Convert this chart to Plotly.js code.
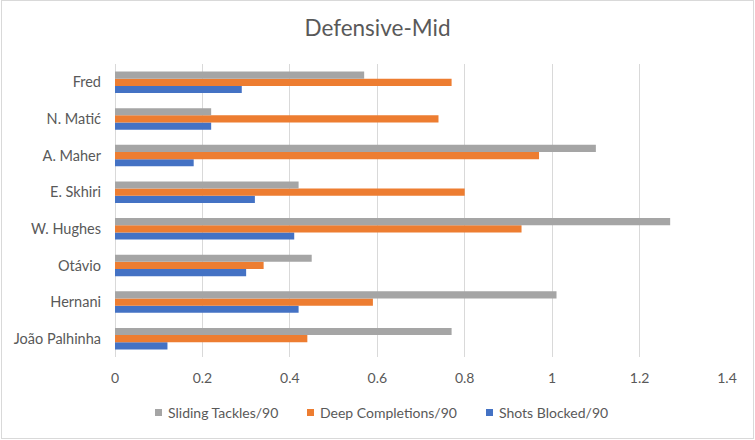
<!DOCTYPE html>
<html>
<head>
<meta charset="utf-8">
<script src="https://cdn.plot.ly/plotly-3.0.1.min.js"></script>
<style>
html,body{margin:0;padding:0;background:#fff;}
#wrap{position:relative;width:755px;height:440px;}
#chart{position:absolute;left:0;top:0;width:755px;height:440px;}
#frame{position:absolute;left:1px;top:0;width:751px;height:437px;border:1px solid #d9d9d9;pointer-events:none;}
</style>
</head>
<body>
<div id="wrap"><div id="chart"></div><div id="frame"></div></div>
<script>
// categories listed bottom to top
const players = ['João Palhinha','Hernani','Otávio','W. Hughes','E. Skhiri','A. Maher','N. Matić','Fred'];
const slidingTackles = [0.77, 1.01, 0.45, 1.27, 0.42, 1.10, 0.22, 0.57];
const deepCompletions = [0.44, 0.59, 0.34, 0.93, 0.80, 0.97, 0.74, 0.77];
const shotsBlocked = [0.12, 0.42, 0.30, 0.41, 0.32, 0.18, 0.22, 0.29];
const xTicks = [0, 0.2, 0.4, 0.6, 0.8, 1, 1.2, 1.4];
const xTickLabels = ['0','0.2','0.4','0.6','0.8','1','1.2','1.4'];
const seriesNames = ['Sliding Tackles/90', 'Deep Completions/90', 'Shots Blocked/90'];
const seriesColors = ['#A5A5A5', '#ED7D31', '#4472C4'];

const font = 'Lato, "Open Sans", sans-serif';
const M = {l:115, r:28, t:64, b:83};
const W = 755, H = 440;
const pw = W - M.l - M.r, ph = H - M.t - M.b;
const px2x = p => (p - M.l) / pw;
const py2y = p => (H - M.b - p) / ph;

const values = [slidingTackles, deepCompletions, shotsBlocked];
// plotly stacks group members bottom-up, so add in reverse order
const traces = [2, 1, 0].map(i => ({
  type:'bar', orientation:'h', name:seriesNames[i], y:players, x:values[i],
  marker:{color:seriesColors[i]}, showlegend:false
}));

// custom legend (Excel style: small square + label)
const legendLeft = [155, 307, 486];
const legendY = 412.5;
const shapes = [], annotations = [];
seriesNames.forEach((n, i) => {
  shapes.push({type:'rect', xref:'paper', yref:'paper',
    x0:px2x(legendLeft[i]), x1:px2x(legendLeft[i] + 7),
    y0:py2y(legendY + 3.5), y1:py2y(legendY - 3.5),
    fillcolor:seriesColors[i], line:{width:0}});
  annotations.push({xref:'paper', yref:'paper', x:px2x(legendLeft[i] + 11), y:py2y(legendY),
    xanchor:'left', yanchor:'middle', text:n, showarrow:false,
    font:{family:font, size:14, color:'#595959'}});
});

const layout = {
  width:W, height:H, margin:M,
  paper_bgcolor:'#fff', plot_bgcolor:'#fff',
  font:{family:font, size:14, color:'#595959'},
  title:{text:'Defensive-Mid', font:{family:font, size:22.5, color:'#595959'}, x:0.5, xanchor:'center', y:0.935, yanchor:'middle', xref:'container', yref:'container'},
  barmode:'group', bargap:0.41, bargroupgap:0,
  xaxis:{range:[0,1.4], tickvals:xTicks, ticktext:xTickLabels, showgrid:true, gridcolor:'#d9d9d9', gridwidth:1, zeroline:true, zerolinecolor:'#d9d9d9', showline:false, ticks:'', ticklabelstandoff:11, tickfont:{size:14, color:'#595959'}, fixedrange:true},
  yaxis:{type:'category', categoryorder:'array', categoryarray:players, showgrid:false, zeroline:false, showline:false, ticks:'', ticklabelstandoff:13, tickfont:{size:14.5, color:'#595959'}},
  showlegend:false,
  shapes:shapes, annotations:annotations
};
Plotly.newPlot('chart', traces, layout, {displayModeBar:false, staticPlot:true});
</script>
</body>
</html>
